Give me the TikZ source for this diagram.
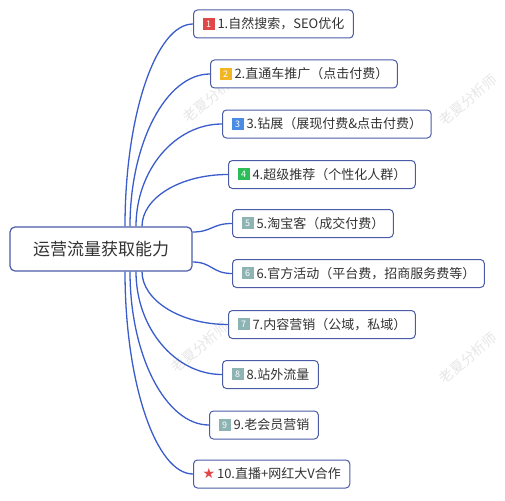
\documentclass[tikz,border=0pt]{standalone}
\usepackage{fontspec}
\setmainfont{Noto Sans CJK SC}
\newfontfamily\symfont{DejaVu Sans}

\definecolor{linkblue}{HTML}{3B5CCB}
\definecolor{boxline}{HTML}{4A5CA8}
\definecolor{txt}{HTML}{333333}
\definecolor{tagred}{HTML}{E04848}
\definecolor{tagyellow}{HTML}{F2B624}
\definecolor{tagblue}{HTML}{4A8BE6}
\definecolor{taggreen}{HTML}{2DBE5A}
\definecolor{taggray}{HTML}{8DB3B3}
\definecolor{wmgray}{HTML}{E6E6E6}

% small coloured number square in front of a branch text
\newcommand\numbadge[2]{{\setlength\fboxsep{0pt}\colorbox{#1}{\makebox[12pt]{\rule[-1pt]{0pt}{12pt}\raisebox{1.5pt}{\fontsize{9}{9}\selectfont\color{white}#2}}}}\hspace{3pt}}

\tikzset{
  topic/.style={draw=boxline, line width=1.2pt, rounded corners=5pt, fill=white,
    text=txt, minimum height=44pt, minimum width=182pt, font=\fontsize{17}{17}\selectfont},
  leaf/.style={draw=boxline, line width=1pt, rounded corners=4pt, fill=white,
    text=txt, minimum height=28pt, inner xsep=9pt, anchor=west, font=\fontsize{13}{13}\selectfont},
  link/.style={draw=linkblue, line width=1.3pt},
  wmark/.style={text=wmgray, rotate=40, font=\fontsize{14}{14}\selectfont},
}

\begin{document}
\begin{tikzpicture}[x=1pt,y=-1pt]
  \useasboundingbox (0,0) rectangle (505,500);
  % watermarks
  \node[wmark] (wm1) at (212,97) {老夏分析师};
  \node[wmark] (wm2) at (468,100) {老夏分析师};
  \node[wmark] (wm3) at (200,347) {老夏分析师};
  \node[wmark] (wm4) at (468,358) {老夏分析师};

  \node[topic] (root) at (101,249) {运营流量获取能力};

  \node[leaf] (n1) at (193,24) {\numbadge{tagred}{1}1.自然搜索，SEO优化};
  \node[leaf] (n2) at (210,74) {\numbadge{tagyellow}{2}2.直通车推广（点击付费）};
  \node[leaf] (n3) at (222,124) {\numbadge{tagblue}{3}3.钻展（展现付费\&点击付费）};
  \node[leaf] (n4) at (228,174.5) {\numbadge{taggreen}{4}4.超级推荐（个性化人群）};
  \node[leaf] (n5) at (232,223.5) {\numbadge{taggray}{5}5.淘宝客（成交付费）};
  \node[leaf] (n6) at (232,273.5) {\numbadge{taggray}{6}6.官方活动（平台费，招商服务费等）};
  \node[leaf] (n7) at (228,324.5) {\numbadge{taggray}{7}7.内容营销（公域，私域）};
  \node[leaf] (n8) at (222,374.5) {\numbadge{taggray}{8}8.站外流量};
  \node[leaf] (n9) at (209,425) {\numbadge{taggray}{9}9.老会员营销};
  \node[leaf] (n10) at (193,474) {{\symfont\fontsize{14}{14}\selectfont\color{tagred}★}\hspace{2pt}10.直播+网红大V合作};

  \draw[link] ([xshift=24pt]root.north) .. controls (125,115) and (156,24) .. (n1.west);
  \draw[link] ([xshift=29pt]root.north) .. controls (130,143) and (166,74) .. (n2.west);
  \draw[link] ([xshift=35pt]root.north) .. controls (136,170) and (175,124) .. (n3.west);
  \draw[link] ([xshift=41pt]root.north) .. controls (142,198) and (180,174.5) .. (n4.west);
  \draw[link] ([yshift=17pt]root.east) .. controls (212,232) and (212,223.5) .. (n5.west);
  \draw[link] ([yshift=-13pt]root.east) .. controls (212,262) and (212,273.5) .. (n6.west);
  \draw[link] ([xshift=41pt]root.south) .. controls (142,300) and (180,324.5) .. (n7.west);
  \draw[link] ([xshift=35pt]root.south) .. controls (136,328) and (175,374.5) .. (n8.west);
  \draw[link] ([xshift=29pt]root.south) .. controls (130,356) and (166,425) .. (n9.west);
  \draw[link] ([xshift=24pt]root.south) .. controls (125,383) and (156,474) .. (n10.west);
\end{tikzpicture}
\end{document}
